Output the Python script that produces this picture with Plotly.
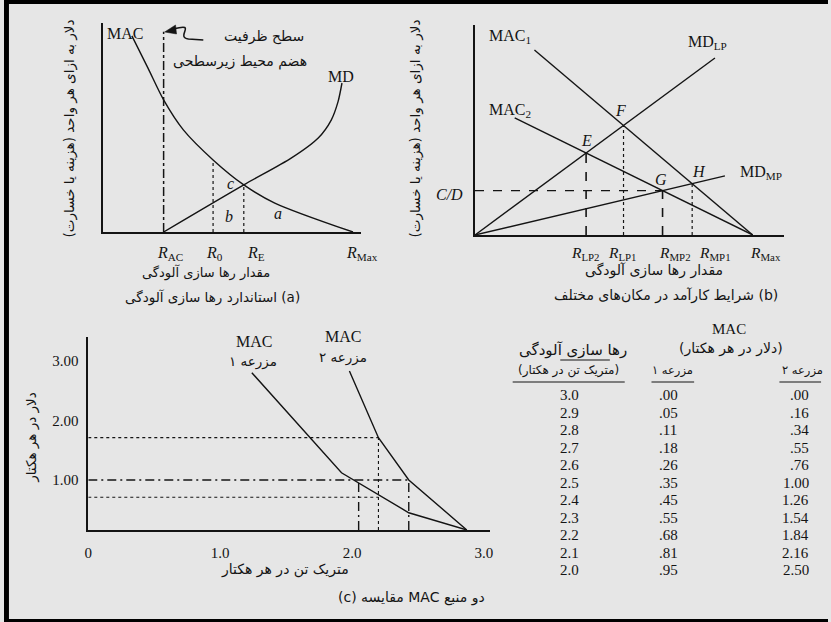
import numpy as np
import plotly.graph_objects as go

W, H = 831, 622
BG = "#e6e6e6"
INK = "#141414"
SERIF = "Liberation Serif, Times New Roman, serif"
FA = "DejaVu Sans, Noto Sans, sans-serif"
RLM = "\u200f"

# ---------------- panel (a): emission standard ----------------
mac_a_x = [1.15, 1.79, 2.42, 3.21, 4.40, 5.63, 6.87, 10.0]
mac_a_y = [7.78, 6.51, 5.24, 4.05, 2.86, 1.87, 1.15, 0.0]
md_a_x = [2.42, 5.63, 7.54, 8.61, 9.13, 9.40, 9.56]
md_a_y = [0.0, 1.87, 2.94, 3.73, 4.44, 5.16, 5.91]
r_ac, r_0, r_e, r_max_a = 2.42, 4.40, 5.63, 10.0
capacity_top = 7.94

# ---------------- panel (b): efficient outcomes by location ----------------
mac1_x, mac1_y = [2.14, 10.0], [6.61, 0.0]
mac2_x, mac2_y = [1.43, 10.0], [4.18, 0.0]
mdlp_x, mdlp_y = [0.0, 8.64], [0.0, 6.32]
mdmp_x, mdmp_y = [0.0, 9.00], [0.0, 2.11]

# ---------------- panel (c): MAC of two farms ----------------
farm1_x = [1.24, 1.92, 2.43, 2.87]
farm1_y = [2.80, 1.12, 0.45, 0.16]
farm2_x = [1.98, 2.20, 2.43, 2.87]
farm2_y = [2.83, 1.71, 1.00, 0.16]
c_floor = 0.16
dot_levels = [1.71, 0.71]
dot_x = 2.20
std_level = 1.00
std_x = [2.05, 2.43]

# table data
table_release = ["3.0", "2.9", "2.8", "2.7", "2.6", "2.5", "2.4", "2.3", "2.2", "2.1", "2.0"]
table_farm1 = [".00", ".05", ".11", ".18", ".26", ".35", ".45", ".55", ".68", ".81", ".95"]
table_farm2 = [".00", ".16", ".34", ".55", ".76", "1.00", "1.26", "1.54", "1.84", "2.16", "2.50"]


def X(px):
    return px / W


def Y(py):
    return 1 - py / H


def line(xs, ys, xa, ya, dash="solid", width=1.4):
    return go.Scatter(x=xs, y=ys, xaxis=xa, yaxis=ya, mode="lines",
                      line=dict(color=INK, width=width, dash=dash),
                      hoverinfo="skip", showlegend=False)


def curve(xs, ys, xa, ya):
    return go.Scatter(x=xs, y=ys, xaxis=xa, yaxis=ya, mode="lines",
                      line=dict(color=INK, width=1.4, shape="spline", smoothing=0.8),
                      hoverinfo="skip", showlegend=False)


def intersect(ax, ay, bx, by):
    m1 = (ay[1] - ay[0]) / (ax[1] - ax[0])
    c1 = ay[0] - m1 * ax[0]
    m2 = (by[1] - by[0]) / (bx[1] - bx[0])
    c2 = by[0] - m2 * bx[0]
    x = (c2 - c1) / (m1 - m2)
    return x, m1 * x + c1


fig = go.Figure()

# panel (a)
fig.add_trace(curve(mac_a_x, mac_a_y, "x", "y"))
fig.add_trace(curve(md_a_x, md_a_y, "x", "y"))
fig.add_trace(line([r_ac, r_ac], [0, capacity_top], "x", "y", dash="dashdot", width=1.5))
mac_r0 = float(np.interp(r_0, mac_a_x, mac_a_y))
fig.add_trace(line([r_0, r_0], [0, mac_r0], "x", "y", dash="dot", width=1.2))
mac_re = float(np.interp(r_e, mac_a_x, mac_a_y))
fig.add_trace(line([r_e, r_e], [0, mac_re], "x", "y", dash="dot", width=1.2))

# panel (b)
for xs, ys in [(mac1_x, mac1_y), (mac2_x, mac2_y), (mdlp_x, mdlp_y), (mdmp_x, mdmp_y)]:
    fig.add_trace(line(xs, ys, "x2", "y2"))
E = intersect(mac2_x, mac2_y, mdlp_x, mdlp_y)
F = intersect(mac1_x, mac1_y, mdlp_x, mdlp_y)
G = intersect(mac2_x, mac2_y, mdmp_x, mdmp_y)
Hh = intersect(mac1_x, mac1_y, mdmp_x, mdmp_y)
fig.add_trace(line([0, G[0]], [G[1], G[1]], "x2", "y2", dash="dash", width=1.3))
fig.add_trace(line([E[0], E[0]], [0, E[1]], "x2", "y2", dash="dash", width=1.6))
fig.add_trace(line([G[0], G[0]], [0, G[1]], "x2", "y2", dash="dash", width=1.6))
fig.add_trace(line([F[0], F[0]], [0, F[1]], "x2", "y2", dash="dot", width=1.2))
fig.add_trace(line([Hh[0], Hh[0]], [0, Hh[1]], "x2", "y2", dash="dot", width=1.2))

# panel (c)
fig.add_trace(line(farm1_x, farm1_y, "x3", "y3"))
fig.add_trace(line(farm2_x, farm2_y, "x3", "y3"))
for lv in dot_levels:
    fig.add_trace(line([0, dot_x], [lv, lv], "x3", "y3", dash="dot", width=1.1))
fig.add_trace(line([dot_x, dot_x], [c_floor, dot_levels[0]], "x3", "y3", dash="dot", width=1.1))
dashdot_c = "9px,4px,2px,4px"
fig.add_trace(line([0, std_x[1]], [std_level, std_level], "x3", "y3", dash=dashdot_c, width=1.4))
for sx in std_x:
    fig.add_trace(line([sx, sx], [c_floor, std_level], "x3", "y3", dash=dashdot_c, width=1.4))

ann = []


def text(t, px, py, size=14, family=SERIF, xanchor="center", angle=0, **kw):
    ann.append(dict(text=t, x=X(px), y=Y(py), xref="paper", yref="paper",
                    xanchor=xanchor, yanchor="middle", showarrow=False, textangle=angle,
                    font=dict(family=family, size=size, color=INK), **kw))


def pt_label(t, p, dx, dy):
    ann.append(dict(text=t, x=p[0], y=p[1], xref="x2", yref="y2", xshift=dx, yshift=dy,
                    showarrow=False, font=dict(family=SERIF, size=16, color=INK)))


ytitle = "دلار به ازای هر واحد (هزینه یا خسارت)" + RLM
release = "مقدار رها سازی آلودگی"

# panel (a) text
text("MAC", 122, 33, 16)
text("MD", 340, 76, 16)
text("سطح ظرفیت", 262, 37, 14, FA)
text("هضم محیط زیرسطحی", 238, 61, 14, FA)
text("<i>c</i>", 228, 183, 16)
text("<i>b</i>", 227, 217, 16)
text("<i>a</i>", 276, 213, 16)
text(ytitle, 67, 128, 13.5, FA, angle=-90)
text("<i>R</i><sub>AC</sub>", 167, 253, 16)
text("<i>R</i><sub>0</sub>", 212, 253, 16)
text("<i>R</i><sub>E</sub>", 254, 253, 16)
text("<i>R</i><sub>Max</sub>", 361, 253, 16)
text(release, 204, 272, 13, FA)
text("استاندارد رها سازی آلودگی (a)", 210, 297, 13.5, FA)

# panel (b) text
text(ytitle, 416, 128, 13.5, FA, angle=-90)
text("MAC<sub>1</sub>", 487, 37, 16, xanchor="left")
text("MD<sub>LP</sub>", 688, 43, 16, xanchor="left")
text("MAC<sub>2</sub>", 487, 110, 16, xanchor="left")
text("MD<sub>MP</sub>", 740, 172, 16, xanchor="left")
text("<i>C/D</i>", 449, 195, 16)
pt_label("<i>E</i>", E, 0, 13)
pt_label("<i>F</i>", F, -3, 15)
pt_label("<i>G</i>", G, -2, 11)
pt_label("<i>H</i>", Hh, 7, 12)
text("<i>R</i><sub>LP2</sub>", 586, 253, 15.5)
text("<i>R</i><sub>LP1</sub>", 624, 253, 15.5)
text("<i>R</i><sub>MP2</sub>", 677, 253, 15.5)
text("<i>R</i><sub>MP1</sub>", 717, 253, 15.5)
text("<i>R</i><sub>Max</sub>", 768, 253, 15.5)
text(release, 656, 270, 14, FA)
text("شرایط کارآمد در مکان\u200cهای مختلف (b)", 668, 295, 14, FA)

# panel (c) text
text("دلار در هر هکتار", 27, 438, 13.5, FA, angle=-90)
text("MAC", 252, 341, 16)
text("مزرعه ۱", 251, 361, 13.5, FA)
text("MAC", 342, 336, 16)
text("مزرعه ۲", 342, 357, 13.5, FA)
text("متریک تن در هر هکتار", 283, 569, 14, FA)
text("(c) مقایسه MAC دو منبع", 411, 597, 14, FA)

# table text
text("MAC", 731, 329, 15)
text(RLM + "(دلار در هر هکتار)" + RLM, 733, 349, 14, FA)
text("رها سازی آلودگی", 574, 350, 15, FA)
text(RLM + "(متریک تن در هکتار)" + RLM, 569, 370, 12, FA)
text("مزرعه ۱", 674, 370, 11.5, FA)
text("مزرعه ۲", 805, 370, 11.5, FA)
for i, (a, b, c) in enumerate(zip(table_release, table_farm1, table_farm2)):
    yy = 395 + 17.5 * i
    text(a, 570, yy, 15)
    text(b, 670, yy, 15)
    text(c, 814, yy, 15, xanchor="right")

shapes = []


def seg(x0, y0, x1, y1, w=1.0):
    shapes.append(dict(type="line", xref="paper", yref="paper", x0=X(x0), y0=Y(y0),
                       x1=X(x1), y1=Y(y1), line=dict(color=INK, width=w)))


# table rules
seg(513, 382, 626, 382)
seg(653, 382, 696, 382)
seg(782, 382, 824, 382)
seg(561, 360, 611, 360)


def P(px, py):
    return f"{X(px):.5f},{Y(py):.5f}"


# curved pointer to the capacity line
shapes.append(dict(type="path", xref="paper", yref="paper",
                   path=f"M{P(201, 40)} L{P(186, 39)} C{P(172, 37)} {P(196, 22)} {P(171, 29)}",
                   line=dict(color=INK, width=1.5)))
shapes.append(dict(type="path", xref="paper", yref="paper",
                   path=f"M{P(162, 32)} L{P(173, 25)} L{P(174, 34)} Z",
                   fillcolor=INK, line=dict(color=INK, width=0.5)))

# frame
shapes.append(dict(type="rect", xref="paper", yref="paper", x0=0, x1=1, y0=Y(4), y1=1,
                   fillcolor="black", line=dict(width=0), layer="above"))
shapes.append(dict(type="rect", xref="paper", yref="paper", x0=0, x1=X(5), y0=0, y1=1,
                   fillcolor="black", line=dict(width=0), layer="above"))
shapes.append(dict(type="rect", xref="paper", yref="paper", x0=0, x1=1, y0=0, y1=Y(619),
                   fillcolor="black", line=dict(width=0), layer="above"))

axis_common = dict(showgrid=False, zeroline=False, showline=True, linecolor=INK,
                   linewidth=1.6, ticks="", fixedrange=True)

fig.update_layout(
    width=W, height=H,
    margin=dict(l=0, r=0, t=0, b=0),
    paper_bgcolor=BG, plot_bgcolor=BG,
    showlegend=False,
    xaxis=dict(domain=[X(100), X(360)], range=[0, 10.32], anchor="y",
               showticklabels=False, **axis_common),
    yaxis=dict(domain=[Y(232), Y(23)], range=[0, 8.29], anchor="x",
               showticklabels=False, **axis_common),
    xaxis2=dict(domain=[X(475), X(787)], range=[0, 11.14], anchor="y2",
                showticklabels=False, **axis_common),
    yaxis2=dict(domain=[Y(235), Y(25)], range=[0, 7.5], anchor="x2",
                showticklabels=False, **axis_common),
    xaxis3=dict(domain=[X(85), X(490)], range=[0, 3.045], anchor="y3",
                tickvals=[0, 1, 2, 3], ticktext=["0", "1.0", "2.0", "3.0"],
                tickfont=dict(family=SERIF, size=15, color=INK), ticklabelstandoff=8,
                **axis_common),
    yaxis3=dict(domain=[Y(530), Y(337)], range=[c_floor, 3.40], anchor="x3",
                tickvals=[1, 2, 3], ticktext=["1.00", "2.00", "3.00"],
                tickfont=dict(family=SERIF, size=15, color=INK), ticklabelstandoff=5,
                **axis_common),
    annotations=ann,
    shapes=shapes,
)

fig.write_html("out.html")
